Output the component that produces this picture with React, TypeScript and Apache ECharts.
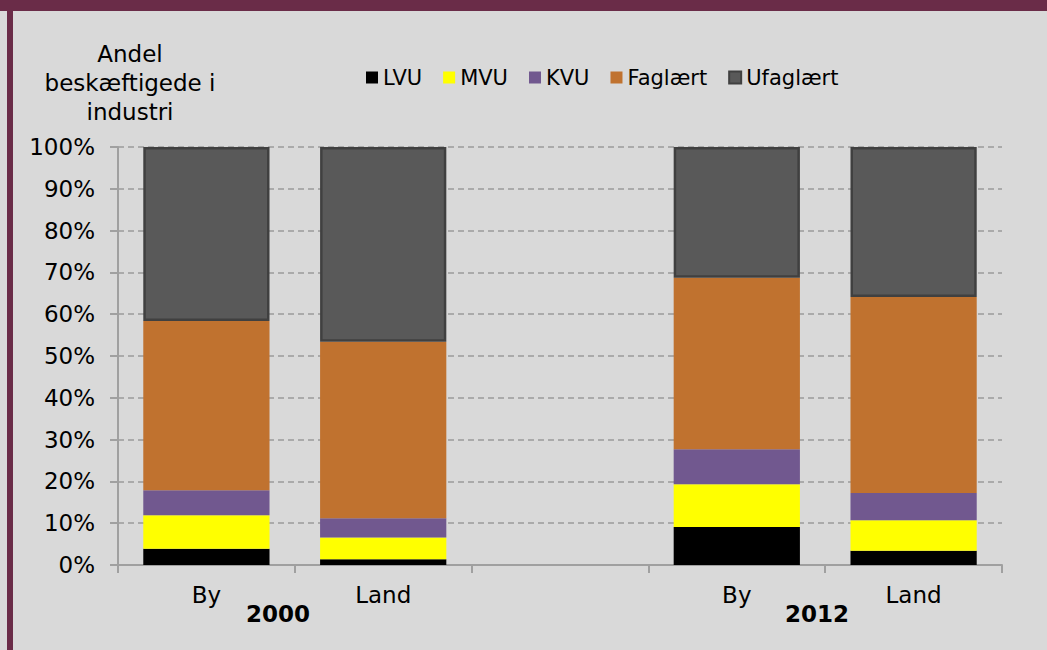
import React, { useEffect, useRef } from "react";
import * as echarts from "echarts";

const categories = ["By", "Land", "", "By", "Land"];
const yearLabels = ["2000", "2012"];
const seriesNames = ["LVU", "MVU", "KVU", "Faglært", "Ufaglært"];
const lvu = [3.9, 1.4, null, 9.1, 3.4];
const mvu = [8.0, 5.2, null, 10.2, 7.3];
const kvu = [6.0, 4.6, null, 8.4, 6.5];
const faglaert = [40.5, 42.2, null, 41.0, 46.9];
const ufaglaert = [41.6, 46.6, null, 31.3, 35.9];
const yTitle = "Andel\nbeskæftigede i\nindustri";

const colors = ["#000000", "#FFFF00", "#71588F", "#C0722F", "#595959"];
const FONT = "DejaVu Sans";

export default function App() {
  const ref = useRef<HTMLDivElement>(null);
  useEffect(() => {
    if (!ref.current) return;
    const chart = echarts.init(ref.current, undefined, { renderer: "svg" });
    const data = [lvu, mvu, kvu, faglaert, ufaglaert];
    chart.setOption({
      animation: false,
      backgroundColor: "#D9D9D9",
      textStyle: { fontFamily: FONT },
      graphic: [
        { type: "rect", shape: { x: 0, y: 0, width: 1047, height: 11 }, style: { fill: "#6A2C48" }, z: 10 },
        { type: "rect", shape: { x: 7, y: 0, width: 6, height: 650 }, style: { fill: "#6A2C48" }, z: 10 },
        {
          type: "text",
          x: 130,
          y: 39,
          style: {
            text: yTitle,
            textAlign: "center",
            textVerticalAlign: "top",
            fontFamily: FONT,
            fontSize: 23,
            lineHeight: 29,
            fill: "#000",
          },
        },
        {
          type: "text",
          x: 278,
          y: 614,
          style: {
            text: yearLabels[0],
            textAlign: "center",
            textVerticalAlign: "middle",
            fontFamily: FONT,
            fontSize: 23,
            fontWeight: "bold",
            fill: "#000",
          },
        },
        {
          type: "text",
          x: 817,
          y: 614,
          style: {
            text: yearLabels[1],
            textAlign: "center",
            textVerticalAlign: "middle",
            fontFamily: FONT,
            fontSize: 23,
            fontWeight: "bold",
            fill: "#000",
          },
        },
      ],
      legend: {
        data: seriesNames,
        left: 361,
        top: 62,
        icon: "rect",
        itemWidth: 12,
        itemHeight: 12,
        itemGap: 21,
        textStyle: { fontFamily: FONT, fontSize: 21, color: "#000" },
      },
      grid: { left: 118, right: 45, top: 147, bottom: 85, containLabel: false },
      xAxis: {
        type: "category",
        data: categories,
        axisLine: { lineStyle: { color: "#A0A0A0", width: 2 } },
        axisTick: { show: true, length: 8, alignWithLabel: false, lineStyle: { color: "#A0A0A0", width: 2 } },
        axisLabel: { fontFamily: FONT, fontSize: 23, color: "#000", margin: 18, interval: 0 },
      },
      yAxis: {
        type: "value",
        min: 0,
        max: 100,
        interval: 10,
        axisLine: { show: true, lineStyle: { color: "#A0A0A0", width: 2 } },
        axisTick: { show: true, length: 8, lineStyle: { color: "#A0A0A0", width: 2 } },
        axisLabel: { formatter: "{value}%", fontFamily: FONT, fontSize: 23, color: "#000", margin: 23 },
        splitLine: { show: true, lineStyle: { color: "#9A9A9A", width: 1.5, type: [6, 4] } },
      },
      series: seriesNames.map((name, i) => ({
        name,
        type: "bar",
        stack: "total",
        barCategoryGap: "28.6%",
        data: data[i],
        itemStyle:
          i === 4
            ? { color: colors[i], borderColor: "#404040", borderWidth: 2.5 }
            : { color: colors[i] },
      })),
    });
    return () => chart.dispose();
  }, []);
  return (
    <div
      ref={ref}
      style={{ position: "absolute", left: 0, top: 0, width: 1047, height: 650 }}
    />
  );
}
